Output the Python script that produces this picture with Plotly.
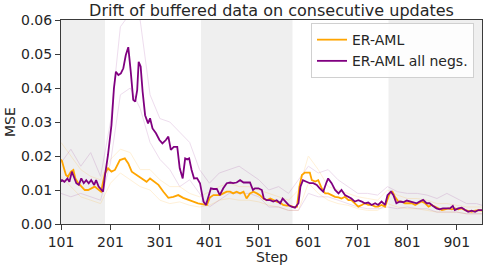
import plotly.graph_objects as go

# ---- data ----
steps_aml = [101, 103, 107, 111, 115, 121, 126, 130, 136, 142, 149, 156, 162, 169, 176, 182, 186, 190,
             196, 203, 210, 220, 230, 237, 244, 254, 264, 274, 281, 288, 298, 308, 318, 328, 338, 348,
             358, 368, 378, 389, 396, 402, 409, 416, 422, 429, 436, 443, 449, 456, 463, 470, 476, 483,
             490, 497, 503, 510, 517, 524, 530, 537, 544, 550, 557, 564, 571, 578, 583, 588, 594, 604,
             608, 615, 621, 628, 635, 641, 648, 655, 662, 668, 675, 682, 688, 695, 702, 709, 715, 722,
             729, 736, 742, 749, 756, 763, 766, 771, 776, 783, 790, 796, 803, 810, 817, 823, 830, 837,
             844, 850, 857, 864, 871, 877, 884, 891, 897, 904, 911, 918, 924, 931, 938, 945, 952]
mse_aml = [0.0190, 0.0185, 0.0164, 0.0144, 0.0139, 0.0154, 0.0159, 0.0134, 0.0120, 0.0110, 0.0100,
           0.0100, 0.0105, 0.0110, 0.0102, 0.0095, 0.0124, 0.0149, 0.0164, 0.0154, 0.0159, 0.0188,
           0.0193, 0.0178, 0.0154, 0.0144, 0.0134, 0.0124, 0.0134, 0.0127, 0.0115, 0.0095, 0.0077,
           0.0080, 0.0085, 0.0077, 0.0071, 0.0066, 0.0061, 0.0058, 0.0056, 0.0078, 0.0085, 0.0085,
           0.0085, 0.0090, 0.0095, 0.0095, 0.0090, 0.0095, 0.0090, 0.0095, 0.0075, 0.0090, 0.0095,
           0.0090, 0.0085, 0.0075, 0.0070, 0.0075, 0.0070, 0.0066, 0.0063, 0.0056, 0.0054, 0.0054,
           0.0050, 0.0051, 0.0110, 0.0144, 0.0151, 0.0151, 0.0129, 0.0125, 0.0129, 0.0105, 0.0090,
           0.0090, 0.0085, 0.0080, 0.0078, 0.0075, 0.0080, 0.0070, 0.0070, 0.0061, 0.0051, 0.0056,
           0.0061, 0.0056, 0.0056, 0.0051, 0.0051, 0.0056, 0.0051, 0.0080, 0.0092, 0.0095, 0.0080,
           0.0066, 0.0066, 0.0061, 0.0061, 0.0061, 0.0056, 0.0061, 0.0066, 0.0061, 0.0051, 0.0056,
           0.0051, 0.0046, 0.0041, 0.0043, 0.0046, 0.0043, 0.0046, 0.0043, 0.0046, 0.0041, 0.0039,
           0.0036, 0.0039, 0.0041, 0.0039]

steps_all = [101, 103, 108, 114, 118, 123, 127, 132, 137, 142, 147, 152, 157, 162, 168, 172, 177, 182,
             186, 190, 196, 203, 208, 212, 217, 222, 227, 232, 237, 242, 247, 251, 255, 258, 262, 266,
             271, 277, 281, 286, 293, 300, 306, 313, 318, 323, 329, 336, 341, 347, 352, 356, 360, 365,
             370, 376, 382, 389, 394, 399, 404, 409, 416, 422, 429, 436, 443, 449, 456, 463, 470, 476,
             483, 489, 493, 500, 507, 511, 517, 524, 530, 537, 544, 549, 554, 561, 567, 574, 581, 585,
             590, 598, 604, 611, 618, 624, 631, 637, 641, 648, 655, 662, 668, 675, 682, 688, 695, 702,
             709, 715, 722, 729, 736, 742, 749, 756, 761, 768, 773, 779, 786, 793, 800, 806, 813, 820,
             826, 833, 840, 846, 853, 860, 866, 873, 880, 887, 893, 897, 904, 911, 918, 924, 931, 938,
             945, 952]
mse_all = [0.0124, 0.0129, 0.0124, 0.0134, 0.0124, 0.0154, 0.0139, 0.0120, 0.0115, 0.0134, 0.0120,
           0.0129, 0.0120, 0.0129, 0.0115, 0.0129, 0.0110, 0.0100, 0.0095, 0.0144, 0.0203, 0.0291,
           0.0399, 0.0448, 0.0438, 0.0443, 0.0458, 0.0497, 0.0520, 0.0448, 0.0365, 0.0360, 0.0394,
           0.0477, 0.0463, 0.0389, 0.0320, 0.0296, 0.0311, 0.0281, 0.0267, 0.0247, 0.0237, 0.0247,
           0.0257, 0.0218, 0.0227, 0.0227, 0.0164, 0.0134, 0.0193, 0.0190, 0.0193, 0.0159, 0.0134,
           0.0135, 0.0120, 0.0066, 0.0056, 0.0080, 0.0105, 0.0103, 0.0103, 0.0085, 0.0105, 0.0120,
           0.0122, 0.0120, 0.0122, 0.0129, 0.0122, 0.0122, 0.0122, 0.0100, 0.0105, 0.0105, 0.0100,
           0.0075, 0.0070, 0.0070, 0.0066, 0.0070, 0.0061, 0.0075, 0.0066, 0.0056, 0.0051, 0.0048,
           0.0061, 0.0110, 0.0129, 0.0125, 0.0120, 0.0120, 0.0115, 0.0105, 0.0095, 0.0120, 0.0134,
           0.0120, 0.0100, 0.0090, 0.0100, 0.0085, 0.0080, 0.0075, 0.0066, 0.0070, 0.0066, 0.0061,
           0.0063, 0.0056, 0.0061, 0.0056, 0.0066, 0.0056, 0.0085, 0.0095, 0.0085, 0.0061, 0.0066,
           0.0064, 0.0069, 0.0066, 0.0064, 0.0061, 0.0066, 0.0071, 0.0061, 0.0061, 0.0053, 0.0046,
           0.0043, 0.0046, 0.0046, 0.0046, 0.0053, 0.0041, 0.0046, 0.0048, 0.0041, 0.0036, 0.0039,
           0.0036, 0.0041, 0.0041]

# faint individual-run traces (coarse readings of the upper/lower faint runs)
steps_runs = [101, 121, 141, 161, 181, 201, 221, 241, 261, 281, 301, 321, 341, 361, 381, 401, 421,
              441, 461, 481, 501, 521, 541, 561, 581, 601, 621, 641, 661, 681, 701, 721, 741, 761,
              781, 801, 821, 841, 861, 881, 901, 921, 941, 952]
all_run_hi = [0.018, 0.022, 0.017, 0.021, 0.014, 0.030, 0.058, 0.062, 0.060, 0.038, 0.031, 0.030,
              0.027, 0.024, 0.016, 0.012, 0.015, 0.016, 0.017, 0.015, 0.013, 0.010, 0.011, 0.009,
              0.013, 0.017, 0.015, 0.016, 0.013, 0.011, 0.009, 0.009, 0.0085, 0.011, 0.0095, 0.009,
              0.009, 0.0085, 0.0075, 0.009, 0.0075, 0.006, 0.006, 0.0055]
all_run_lo = [0.009, 0.008, 0.009, 0.008, 0.007, 0.018, 0.038, 0.040, 0.034, 0.024, 0.019, 0.016,
              0.011, 0.013, 0.009, 0.005, 0.007, 0.009, 0.009, 0.009, 0.008, 0.005, 0.005, 0.004,
              0.004, 0.009, 0.008, 0.008, 0.007, 0.006, 0.005, 0.0045, 0.0045, 0.005, 0.0045, 0.005,
              0.0045, 0.0045, 0.0035, 0.0035, 0.0035, 0.003, 0.003, 0.003]
aml_run_hi = [0.024, 0.020, 0.016, 0.014, 0.013, 0.019, 0.022, 0.021, 0.016, 0.016, 0.013, 0.011,
              0.011, 0.009, 0.008, 0.0095, 0.011, 0.012, 0.011, 0.011, 0.010, 0.009, 0.008, 0.007,
              0.010, 0.020, 0.016, 0.011, 0.010, 0.009, 0.008, 0.0075, 0.007, 0.010, 0.0085, 0.0075,
              0.0075, 0.007, 0.006, 0.006, 0.0055, 0.005, 0.005, 0.005]
aml_run_lo = [0.014, 0.011, 0.008, 0.007, 0.006, 0.012, 0.015, 0.013, 0.011, 0.010, 0.007, 0.006,
              0.0065, 0.0055, 0.005, 0.0055, 0.007, 0.0075, 0.007, 0.007, 0.0065, 0.0055, 0.005,
              0.004, 0.004, 0.012, 0.009, 0.007, 0.006, 0.0055, 0.0045, 0.004, 0.004, 0.006, 0.005,
              0.0045, 0.0045, 0.004, 0.0035, 0.0035, 0.0035, 0.003, 0.003, 0.003]

shaded_spans = [(101, 190), (384, 569), (763, 952)]
x_ticks = [101, 201, 301, 401, 501, 601, 701, 801, 901]
y_ticks = [0.0, 0.01, 0.02, 0.03, 0.04, 0.05, 0.06]

ORANGE = "#FFA500"
PURPLE = "#800080"
TXT = "#262626"
FONT = "DejaVu Sans"

fig = go.Figure()

for ys in (aml_run_hi, aml_run_lo):
    fig.add_trace(go.Scatter(x=steps_runs, y=ys, mode="lines", showlegend=False,
                             line=dict(color=ORANGE, width=1), opacity=0.15, hoverinfo="skip"))
for ys in (all_run_hi, all_run_lo):
    fig.add_trace(go.Scatter(x=steps_runs, y=ys, mode="lines", showlegend=False,
                             line=dict(color=PURPLE, width=1), opacity=0.13, hoverinfo="skip"))

fig.add_trace(go.Scatter(x=steps_aml, y=mse_aml, mode="lines", name="ER-AML",
                         line=dict(color=ORANGE, width=1.8)))
fig.add_trace(go.Scatter(x=steps_all, y=mse_all, mode="lines", name="ER-AML all negs.",
                         line=dict(color=PURPLE, width=1.8)))

shapes = []
for a, b in shaded_spans:
    shapes.append(dict(type="rect", xref="x", yref="paper", x0=a, x1=b, y0=0, y1=1,
                       fillcolor="#efefef", line=dict(width=0), layer="below"))

axis_common = dict(showline=True, linecolor="#3a3a3a", linewidth=1, mirror=True,
                   ticks="outside", ticklen=5, tickcolor="#3a3a3a", showgrid=False,
                   zeroline=False, automargin=False,
                   tickfont=dict(family=FONT, size=14, color=TXT))

fig.update_layout(
    width=484, height=268,
    margin=dict(l=61, r=2, t=20, b=44, autoexpand=False),
    paper_bgcolor="white", plot_bgcolor="white",
    font=dict(family=FONT, size=14, color=TXT),
    title=dict(text="Drift of buffered data on consecutive updates", x=0.561, xanchor="center",
               y=0.962, yanchor="middle", yref="container",
               font=dict(family=FONT, size=16, color=TXT)),
    xaxis=dict(range=[101, 952], tickvals=x_ticks, ticktext=[str(v) for v in x_ticks],
               **axis_common),
    yaxis=dict(range=[0, 0.06], tickvals=y_ticks, ticktext=["%.2f" % v for v in y_ticks],
               **axis_common),
    shapes=shapes,
    annotations=[
        dict(text="Step", xref="paper", yref="paper", x=0.5, y=-33 / 204, xanchor="center",
             yanchor="middle", showarrow=False, font=dict(family=FONT, size=14, color=TXT)),
        dict(text="MSE", xref="paper", yref="paper", x=-51 / 421, y=0.5, xanchor="center",
             yanchor="middle", textangle=-90, showarrow=False,
             font=dict(family=FONT, size=14, color=TXT)),
    ],
    legend=dict(x=0.981, xanchor="right", y=0.985, yanchor="top",
                bgcolor="rgba(255,255,255,0.85)", bordercolor="#d0d0d0", borderwidth=1,
                font=dict(family=FONT, size=14, color=TXT), tracegroupgap=0),
    showlegend=True,
)

fig.write_html("out.html", config={"displayModeBar": False},
               post_script="document.body.style.margin='0';document.body.style.overflow='hidden';")
